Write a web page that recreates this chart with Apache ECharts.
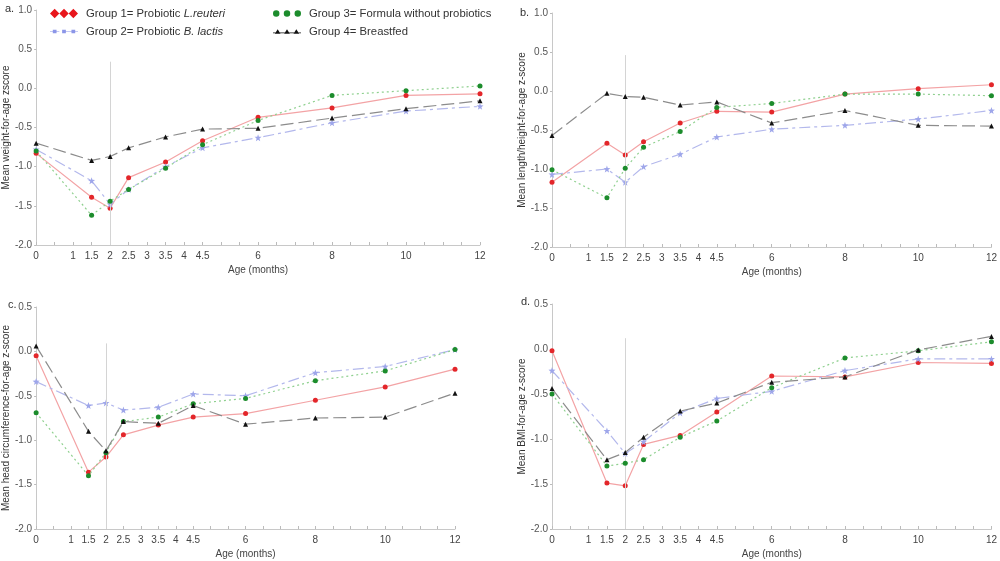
<!DOCTYPE html>
<html>
<head>
<meta charset="utf-8">
<script src="https://cdn.jsdelivr.net/npm/echarts@6/dist/echarts.min.js"></script>
<style>
  html, body { margin: 0; padding: 0; background: #fff; }
  #chart { width: 1000px; height: 561px; }
</style>
</head>
<body>
<div id="chart"></div>
<script>
// ages (months) where each group was measured
const ages = [0, 1.5, 2, 2.5, 3.5, 4.5, 6, 8, 10, 12]
const xTickLabels = [0, 1, 1.5, 2, 2.5, 3, 3.5, 4, 4.5, 6, 8, 10, 12]
const groupNames = ['Group 1', 'Group 2', 'Group 3', 'Group 4']

// a. weight-for-age
const weightG1 = [-0.83, -1.39, -1.53, -1.14, -0.94, -0.67, -0.37, -0.25, -0.09, -0.07]
const weightG2 = [-0.78, -1.18, -1.48, -1.29, -1.00, -0.76, -0.63, -0.44, -0.29, -0.23]
const weightG3 = [-0.80, -1.62, -1.44, -1.29, -1.02, -0.72, -0.41, -0.09, -0.03, 0.03]
const weightG4 = [-0.70, -0.92, -0.87, -0.76, -0.62, -0.52, -0.51, -0.38, -0.26, -0.16]

// b. length/height-for-age
const lengthG1 = [-1.17, -0.67, -0.82, -0.65, -0.41, -0.26, -0.27, -0.04, 0.03, 0.08]
const lengthG2 = [-1.07, -1.00, -1.17, -0.97, -0.81, -0.59, -0.49, -0.44, -0.36, -0.25]
const lengthG3 = [-1.01, -1.37, -0.99, -0.72, -0.52, -0.21, -0.16, -0.04, -0.04, -0.06]
const lengthG4 = [-0.57, -0.03, -0.07, -0.08, -0.18, -0.14, -0.41, -0.25, -0.44, -0.45]

// c. head circumference-for-age
const headG1 = [-0.05, -1.36, -1.19, -0.94, -0.83, -0.74, -0.70, -0.55, -0.40, -0.20]
const headG2 = [-0.34, -0.61, -0.58, -0.66, -0.63, -0.48, -0.50, -0.24, -0.17, 0.02]
const headG3 = [-0.69, -1.40, -1.14, -0.79, -0.74, -0.59, -0.53, -0.33, -0.22, 0.02]
const headG4 = [0.06, -0.90, -1.12, -0.79, -0.81, -0.61, -0.82, -0.75, -0.74, -0.47]

// d. BMI-for-age
const bmiG1 = [-0.02, -1.49, -1.52, -1.06, -0.96, -0.70, -0.30, -0.31, -0.15, -0.16]
const bmiG2 = [-0.24, -0.91, -1.16, -1.03, -0.71, -0.55, -0.47, -0.24, -0.11, -0.11]
const bmiG3 = [-0.50, -1.30, -1.27, -1.23, -0.98, -0.80, -0.43, -0.10, -0.02, 0.08]
const bmiG4 = [-0.44, -1.23, -1.15, -0.98, -0.69, -0.60, -0.37, -0.31, -0.01, 0.14]

const yAxisTitles = [
  'Mean weight-for-age zscore',
  'Mean length/height-for-age z-score',
  'Mean head circumference-for-age z-score',
  'Mean BMI-for-age z-score'
]
const yMax = [1.0, 1.0, 0.5, 0.5]
const refLineTop = [0.34, 0.46, 0.09, 0.12]
const panelLetters = ['a.', 'b.', 'c.', 'd.']

const panels = [
  [weightG1, weightG2, weightG3, weightG4],
  [lengthG1, lengthG2, lengthG3, lengthG4],
  [headG1, headG2, headG3, headG4],
  [bmiG1, bmiG2, bmiG3, bmiG4]
]

const chart = echarts.init(document.getElementById('chart'))

const grids = [
  { left: 36, right: 520, top: 10, bottom: 316 },
  { left: 552, right: 7, top: 13, bottom: 314 },
  { left: 36, right: 545, top: 307, bottom: 32 },
  { left: 552, right: 8, top: 304, bottom: 32 }
]

const STAR = 'path://M5,0 L6.2,3.6 L10,3.8 L7,6.2 L8.1,10 L5,7.8 L1.9,10 L3,6.2 L0,3.8 L3.8,3.6Z'

const styles = [
  { marker: '#e3262a', line: '#f3a3a5', type: 'solid', symbol: 'circle', size: 5 },
  { marker: '#9ea6ea', line: '#b3b8ec', type: [11, 4, 3, 4], symbol: STAR, size: 7 },
  { marker: '#1c8c2c', line: '#8fd08f', type: [2, 3], symbol: 'circle', size: 5 },
  { marker: '#111111', line: '#8c8c8c', type: [13, 5], symbol: 'triangle', size: 5 }
]

const xAxes = grids.map((g, i) => ({
  type: 'value',
  gridIndex: i,
  min: 0,
  max: 12,
  interval: 0.5,
  name: 'Age (months)',
  nameLocation: 'middle',
  nameGap: 20,
  nameTextStyle: { fontSize: 10, color: '#444', fontFamily: 'Liberation Sans' },
  axisLine: { onZero: false, lineStyle: { color: '#c8c8c8' } },
  axisTick: { inside: true, length: 3, lineStyle: { color: '#bbb' } },
  splitLine: { show: false },
  axisLabel: {
    fontSize: 10, color: '#444', fontFamily: 'Liberation Sans', margin: 6,
    formatter: v => xTickLabels.includes(v) ? String(v) : ''
  }
}))

const yAxes = grids.map((g, i) => ({
  type: 'value',
  gridIndex: i,
  min: -2,
  max: yMax[i],
  interval: 0.5,
  name: yAxisTitles[i],
  nameLocation: 'middle',
  nameGap: i % 2 === 0 ? 21 : 20,
  nameTextStyle: { fontSize: 10, color: '#333', fontFamily: 'Liberation Sans' },
  axisLine: { show: true, onZero: false, lineStyle: { color: '#c8c8c8' } },
  axisTick: { show: true, length: 2, lineStyle: { color: '#bbb' } },
  splitLine: { show: false },
  axisLabel: {
    fontSize: 10, color: '#555', fontFamily: 'Liberation Sans', margin: 4,
    formatter: v => v.toFixed(1)
  }
}))

const series = []
panels.forEach((groups, p) => {
  groups.forEach((vals, g) => {
    const s = styles[g]
    series.push({
      name: groupNames[g],
      type: 'line',
      xAxisIndex: p,
      yAxisIndex: p,
      data: ages.map((a, k) => [a, vals[k]]),
      symbol: s.symbol,
      symbolSize: s.size,
      showSymbol: true,
      itemStyle: { color: s.marker },
      lineStyle: { color: s.line, width: 1.2, type: s.type },
      z: 3 + g,
      markLine: g === 0 ? {
        silent: true,
        symbol: 'none',
        label: { show: false },
        lineStyle: { color: '#d4d4d4', width: 1, type: 'solid' },
        data: [[{ coord: [2, -2] }, { coord: [2, refLineTop[p]] }]]
      } : undefined
    })
  })
})

const legendText = {
  'Group 1': '{n|Group 1= Probiotic }{i|L.reuteri}',
  'Group 2': '{n|Group 2= Probiotic }{i|B. lactis}',
  'Group 3': '{n|Group 3= Formula without probiotics}',
  'Group 4': '{n|Group 4= Breastfed}'
}
const legendRich = {
  n: { fontSize: 11.3, color: '#333', fontFamily: 'Liberation Sans', lineHeight: 14 },
  i: { fontSize: 11.3, color: '#333', fontFamily: 'Liberation Sans', fontStyle: 'italic', lineHeight: 14 }
}

const ICON_DIAMONDS = 'path://M0,5 L5,0 L10,5 L5,10Z M10,5 L15,0 L20,5 L15,10Z M20,5 L25,0 L30,5 L25,10Z'
const ICON_DOTS = 'path://M2,5 A3,3 0 1 1 8,5 A3,3 0 1 1 2,5Z M12,5 A3,3 0 1 1 18,5 A3,3 0 1 1 12,5Z M22,5 A3,3 0 1 1 28,5 A3,3 0 1 1 22,5Z'
const ICON_STARS = 'path://M0,4.6 L10,4.6 L10,5.4 L0,5.4Z M13,4.6 L30,4.6 L30,5.4 L13,5.4Z M3,3 L7,3 L7,7 L3,7Z M13,3 L17,3 L17,7 L13,7Z M23,3 L27,3 L27,7 L23,7Z'
const ICON_TRI = 'path://M0,5.6 L30,5.6 L30,6.4 L0,6.4Z M2,7 L5,2 L8,7Z M12,7 L15,2 L18,7Z M22,7 L25,2 L28,7Z'

const legendBase = {
  orient: 'vertical',
  top: 3,
  itemWidth: 28,
  itemHeight: 10,
  itemGap: 7,
  formatter: n => legendText[n],
  textStyle: { rich: legendRich, padding: [0, 0, 0, 3] }
}

const option = {
  animation: false,
  grid: grids,
  xAxis: xAxes,
  yAxis: yAxes,
  legend: [
    Object.assign({}, legendBase, {
      left: 45,
      data: [
        { name: 'Group 1', icon: ICON_DIAMONDS, itemStyle: { color: '#e8161c' } },
        { name: 'Group 2', icon: ICON_STARS, itemStyle: { color: '#8c96e8' } }
      ]
    }),
    Object.assign({}, legendBase, {
      left: 268,
      data: [
        { name: 'Group 3', icon: ICON_DOTS, itemStyle: { color: '#1c8c2c' } },
        { name: 'Group 4', icon: ICON_TRI, itemStyle: { color: '#111' } }
      ]
    })
  ],
  graphic: panelLetters.map((t, i) => ({
    type: 'text',
    left: [5, 520, 8, 521][i],
    top: [3, 7, 299, 296][i],
    style: { text: t, fontSize: 11, fill: '#333', fontFamily: 'Liberation Sans' }
  })),
  series: series
}

chart.setOption(option)
</script>
</body>
</html>
